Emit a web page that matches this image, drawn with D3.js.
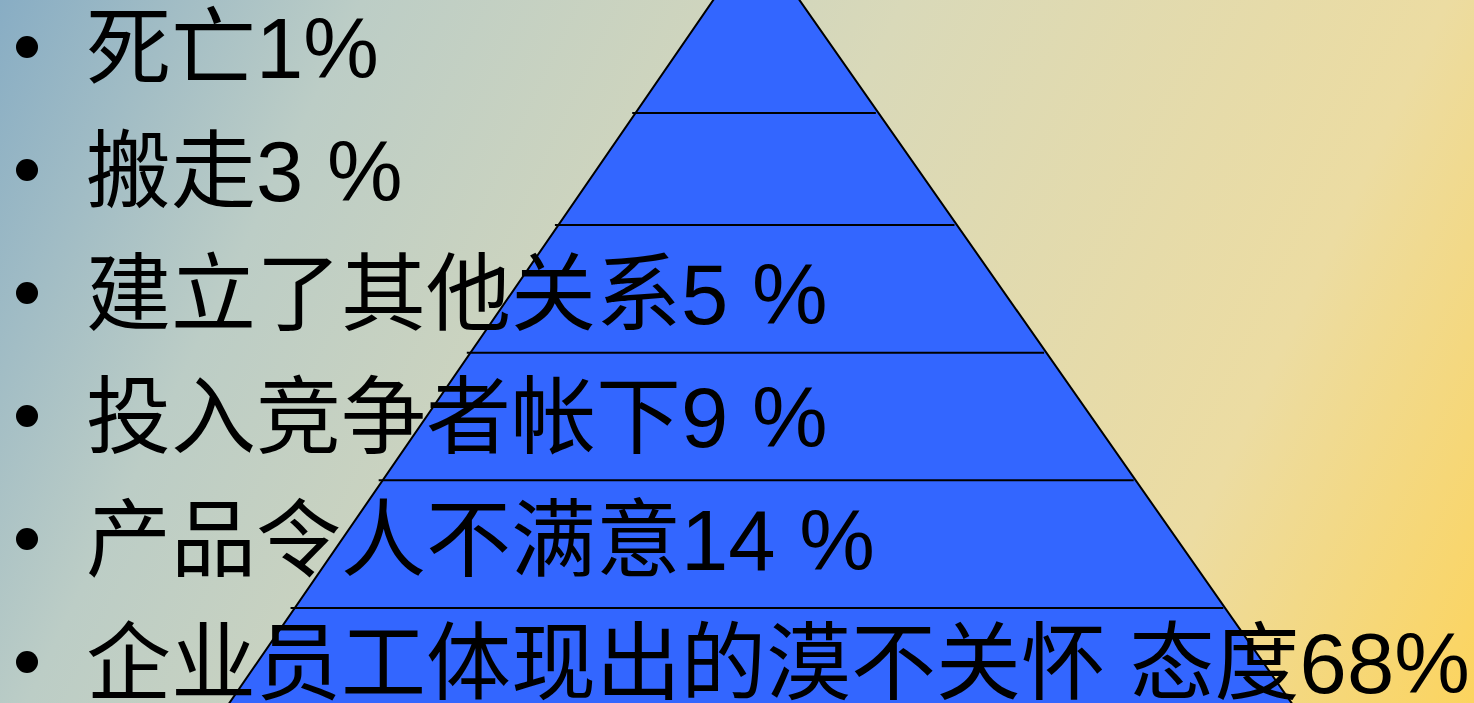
<!DOCTYPE html>
<html>
<head>
<meta charset="utf-8">
<script src="https://cdn.jsdelivr.net/npm/d3@7/dist/d3.min.js"></script>
<style>
  html, body { margin: 0; padding: 0; overflow: hidden; }
  svg { display: block; }
  .label { font-family: "Liberation Sans", Arial, "Noto Sans CJK SC", sans-serif; fill: #000; }
</style>
</head>
<body>
<svg id="vis"></svg>
<script>
// reasons customers leave
var labels = ['死亡', '搬走', '建立了其他关系', '投入竞争者帐下', '产品令人不满意', '企业员工体现出的漠不关怀 态度'];
var values = [1, 3, 5, 9, 14, 68];
var gaps = ['', ' ', ' ', ' ', ' ', ''];
// pyramid divider levels (between the 6 layers)
var levels = [1, 2, 3, 4, 5];

window.onload = function(){

	return {
		w: 1474,
		h: 703,

		apex: [756, -62],
		baseL: 228,
		baseR: 1293,

		draw: function(){
			var self = this;
			var svg = d3.select('#vis')
				.attr('width', self.w)
				.attr('height', self.h);

			// background gradient
			var defs = svg.append('defs');
			var grad = defs.append('linearGradient')
				.attr('id', 'bg')
				.attr('gradientUnits', 'userSpaceOnUse')
				.attr('x1', 0).attr('y1', 0)
				.attr('x2', self.w).attr('y2', self.h);
			[[0, '#88adc4'], [0.2, '#bccdc6'], [0.5, '#d9d9b9'], [0.8, '#ecdca2'], [1, '#fcd45e']]
				.forEach(function(s){
					grad.append('stop').attr('offset', s[0]).attr('stop-color', s[1]);
				});
			svg.append('rect')
				.attr('width', self.w)
				.attr('height', self.h)
				.attr('fill', 'url(#bg)');

			// pyramid
			var ax = self.apex[0], ay = self.apex[1];
			var edgeL = d3.scaleLinear().domain([ay, self.h]).range([ax, self.baseL]);
			var edgeR = d3.scaleLinear().domain([ay, self.h]).range([ax, self.baseR]);
			var yLevel = d3.scaleLinear().domain([1, 2, 5]).range([113, 225, 608]);

			svg.append('path')
				.attr('d', d3.line()([[ax, ay], [self.baseL, self.h + 2], [self.baseR, self.h + 2]]) + 'Z')
				.attr('fill', '#3366ff')
				.attr('stroke', '#000')
				.attr('stroke-width', 2);

			svg.selectAll('line.div')
				.data(levels)
				.enter().append('line')
				.classed('div', true)
				.attr('x1', function(d){ return edgeL(yLevel(d)) - 3; })
				.attr('x2', function(d){ return edgeR(yLevel(d)) - 3; })
				.attr('y1', function(d){ return yLevel(d); })
				.attr('y2', function(d){ return yLevel(d); })
				.attr('stroke', '#000')
				.attr('stroke-width', 2);

			// bullet rows
			var rowY = d3.scaleLinear().domain([0, 5]).range([78, 693]);
			var rows = svg.selectAll('g.row')
				.data(labels)
				.enter().append('g')
				.classed('row', true)
				.attr('transform', function(d, i){ return 'translate(0,' + rowY(i) + ')'; });

			rows.append('circle')
				.attr('cx', 27)
				.attr('cy', -31)
				.attr('r', 11)
				.attr('fill', '#000');

			rows.append('text')
				.classed('label', true)
				.attr('x', 86)
				.attr('y', 0)
				.style('font-size', '85px')
				.style('white-space', 'pre')
				.text(function(d, i){ return d + values[i] + gaps[i] + '%'; });
		}
	};
}().draw();
</script>
</body>
</html>
